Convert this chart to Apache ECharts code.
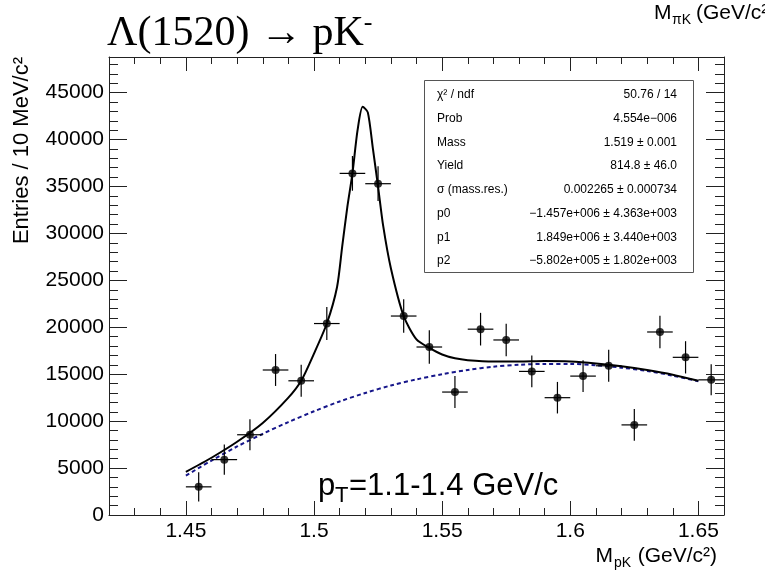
<!DOCTYPE html>
<html>
<head>
<meta charset="utf-8">
<title>Λ(1520) → pK⁻</title>
<script src="https://cdn.jsdelivr.net/npm/echarts@6/dist/echarts.min.js"></script>
<style>
  html, body { margin: 0; padding: 0; background: #fff; }
  #chart { width: 765px; height: 575px; }
</style>
</head>
<body>
<div id="chart"></div>
<script>
// pK invariant-mass spectrum, 10 MeV/c² bins
const binCentres = [1.455, 1.465, 1.475, 1.485, 1.495, 1.505, 1.515, 1.525, 1.535, 1.545,
                    1.555, 1.565, 1.575, 1.585, 1.595, 1.605, 1.615, 1.625, 1.635, 1.645, 1.655];
const entries = [3000, 5900, 8550, 15450, 14300, 20400, 36400, 35300, 21200, 17900,
                 13100, 19800, 18650, 15300, 12500, 14800, 15900, 9600, 19500, 16800, 14400];
const entryErrors = [1550, 1600, 1650, 1700, 1700, 1750, 1850, 1850, 1780, 1780,
                     1700, 1740, 1740, 1700, 1680, 1700, 1700, 1690, 1740, 1720, 1650];
const binHalfWidth = 0.005;

// total fit (signal + pol2 background)
const fitMass = [1.45, 1.46, 1.47, 1.48, 1.49, 1.495, 1.50, 1.505, 1.509, 1.511, 1.513, 1.515,
                 1.517, 1.519, 1.521, 1.523, 1.525, 1.527, 1.53, 1.535, 1.54, 1.545, 1.55,
                 1.555, 1.56, 1.57, 1.58, 1.59, 1.60, 1.61, 1.62, 1.63, 1.64, 1.65];
const fitValues = [4600, 6100, 7800, 9800, 12500, 14300, 17200, 20400, 24300, 28600, 32800, 36400,
                   41000, 43500, 42900, 39000, 35000, 30800, 26300, 21200, 18700, 17800, 17100,
                   16700, 16500, 16350, 16350, 16400, 16350, 16150, 15850, 15450, 14950, 14300];

// pol2 background component
const bkgMass = [1.45, 1.46, 1.47, 1.48, 1.49, 1.50, 1.51, 1.52, 1.53, 1.54, 1.55,
                 1.56, 1.57, 1.58, 1.59, 1.60, 1.61, 1.62, 1.63, 1.64, 1.65];
const bkgValues = [4200, 5800, 7300, 8650, 9900, 11050, 12100, 13000, 13800, 14450, 15000,
                   15450, 15800, 16000, 16100, 16100, 15950, 15700, 15350, 14850, 14250];

// axis ticks
const xMajorTicks = [1.45, 1.5, 1.55, 1.6, 1.65];
const xTickLabels = ['1.45', '1.5', '1.55', '1.6', '1.65'];
const yMajorTicks = [0, 5000, 10000, 15000, 20000, 25000, 30000, 35000, 40000, 45000];
const yTickLabels = ['0', '5000', '10000', '15000', '20000', '25000', '30000', '35000', '40000', '45000'];

// fit statistics panel
const statNames = ['χ² / ndf', 'Prob', 'Mass', 'Yield', 'σ (mass.res.)', 'p0', 'p1', 'p2'];
const statValues = ['50.76 / 14', '4.554e−006', '1.519 ± 0.001', '814.8 ± 46.0',
                    '0.002265 ± 0.000734', '−1.457e+006 ± 4.363e+003',
                    '1.849e+006 ± 3.440e+003', '−5.802e+005 ± 1.802e+003'];

const X_MIN = 1.42, X_MAX = 1.66, Y_MIN = 0, Y_MAX = 48800;

const xMinorTicks = [];
for (let k = 142; k <= 166; k++) if (k % 5 !== 0) xMinorTicks.push(k / 100);
const yMinorTicks = [];
for (let k = 1; k <= 48; k++) if (k % 5 !== 0) yMinorTicks.push(k * 1000);

const FONT = '"Liberation Sans", Arial, Helvetica, sans-serif';
const SERIF = '"Liberation Serif", "Times New Roman", Times, serif';
const INK = '#000';
const FRAME = '#222';

function xAxisDef(position, ticks, len, withLine, withLabels) {
  return {
    type: 'value', position, min: X_MIN, max: X_MAX,
    axisLine: { show: withLine, onZero: false, lineStyle: { color: FRAME, width: 1 } },
    axisTick: { show: true, inside: true, length: len, customValues: ticks,
                lineStyle: { color: FRAME, width: 1 } },
    axisLabel: withLabels ? {
      show: true, customValues: xMajorTicks, margin: 6,
      color: INK, fontFamily: FONT, fontSize: 21,
      formatter: v => xTickLabels[xMajorTicks.findIndex(t => Math.abs(t - v) < 1e-9)] ?? ''
    } : { show: false },
    splitLine: { show: false }
  };
}
function yAxisDef(position, ticks, len, withLine, withLabels) {
  return {
    type: 'value', position, min: Y_MIN, max: Y_MAX,
    axisLine: { show: withLine, onZero: false, lineStyle: { color: FRAME, width: 1 } },
    axisTick: { show: true, inside: true, length: len, customValues: ticks,
                lineStyle: { color: FRAME, width: 1 } },
    axisLabel: withLabels ? {
      show: true, customValues: yMajorTicks, margin: 5,
      color: INK, fontFamily: FONT, fontSize: 21,
      formatter: v => yTickLabels[yMajorTicks.indexOf(v)] ?? ''
    } : { show: false },
    splitLine: { show: false }
  };
}

const STAT_X = 424, STAT_Y = 80, STAT_W = 269, STAT_H = 192;
const statGraphics = [{
  type: 'rect', z: 50,
  shape: { x: STAT_X + 0.5, y: STAT_Y + 0.5, width: STAT_W, height: STAT_H },
  style: { fill: '#fff', stroke: '#555', lineWidth: 1 }
}];
statNames.forEach((name, i) => {
  const y = STAT_Y + 15 + i * 23.7;
  statGraphics.push({
    type: 'text', z: 51, x: STAT_X + 13, y,
    style: { text: name, font: '12px ' + FONT, fill: INK, align: 'left', verticalAlign: 'middle' }
  });
  statGraphics.push({
    type: 'text', z: 51, x: STAT_X + STAT_W - 16, y,
    style: { text: statValues[i], font: '12px ' + FONT, fill: INK, align: 'right', verticalAlign: 'middle' }
  });
});

const option = {
  animation: false,
  backgroundColor: '#fff',
  grid: { left: 109, right: 41, top: 57, bottom: 60, containLabel: false },
  xAxis: [
    xAxisDef('bottom', xMajorTicks, 14, true, true),
    xAxisDef('bottom', xMinorTicks, 7, false, false),
    xAxisDef('top', xMajorTicks, 14, true, false),
    xAxisDef('top', xMinorTicks, 7, false, false)
  ],
  yAxis: [
    yAxisDef('left', yMajorTicks, 18, true, true),
    yAxisDef('left', yMinorTicks, 9, false, false),
    yAxisDef('right', yMajorTicks, 18, true, false),
    yAxisDef('right', yMinorTicks, 9, false, false)
  ],
  series: [
    {
      type: 'line', name: 'background', xAxisIndex: 0, yAxisIndex: 0,
      data: bkgMass.map((m, i) => [m, bkgValues[i]]),
      smooth: 0.3, showSymbol: false, z: 3,
      lineStyle: { color: '#16168a', width: 2, type: [4, 3] }
    },
    {
      type: 'line', name: 'fit', xAxisIndex: 0, yAxisIndex: 0,
      data: fitMass.map((m, i) => [m, fitValues[i]]),
      smooth: 0.25, showSymbol: false, z: 4,
      lineStyle: { color: '#000', width: 2 }
    },
    {
      type: 'custom', name: 'errors', xAxisIndex: 0, yAxisIndex: 0, z: 5,
      data: binCentres.map((m, i) => [m, entries[i], entryErrors[i]]),
      renderItem: (params, api) => {
        const m = api.value(0), v = api.value(1), e = api.value(2);
        const l = api.coord([m - binHalfWidth, v]);
        const r = api.coord([m + binHalfWidth, v]);
        const t = api.coord([m, v + e]);
        const b = api.coord([m, v - e]);
        return {
          type: 'group',
          children: [
            { type: 'line', shape: { x1: l[0], y1: l[1], x2: r[0], y2: r[1] },
              style: { stroke: '#000', lineWidth: 1.2 } },
            { type: 'line', shape: { x1: t[0], y1: t[1], x2: b[0], y2: b[1] },
              style: { stroke: '#000', lineWidth: 1.2 } }
          ]
        };
      }
    },
    {
      type: 'scatter', name: 'data', xAxisIndex: 0, yAxisIndex: 0, z: 6,
      data: binCentres.map((m, i) => [m, entries[i]]),
      symbol: 'circle', symbolSize: 8,
      itemStyle: { color: '#000' }
    }
  ],
  graphic: [
    // decay title
    { type: 'text', x: 107, y: 34,
      style: {
        text: '{m|Λ(1520) → pK}{s|-}',
        fill: INK, align: 'left', verticalAlign: 'middle',
        rich: {
          m: { font: '42px ' + SERIF, lineHeight: 48, fill: INK },
          s: { font: '26px ' + SERIF, lineHeight: 48, verticalAlign: 'top', fill: INK }
        }
      } },
    // axis title left over in the top-right corner
    { type: 'text', x: 654, y: 13,
      style: { text: 'M', font: '21px ' + FONT, fill: INK, align: 'left', verticalAlign: 'middle' } },
    { type: 'text', x: 672, y: 20,
      style: { text: 'πK', font: '14px ' + FONT, fill: INK, align: 'left', verticalAlign: 'middle' } },
    { type: 'text', x: 696, y: 13,
      style: { text: '(GeV/c²)', font: '21px ' + FONT, fill: INK, align: 'left', verticalAlign: 'middle' } },
    // x axis title
    { type: 'text', x: 717, y: 556,
      style: { text: '(GeV/c²)', font: '21px ' + FONT, fill: INK, align: 'right', verticalAlign: 'middle' } },
    { type: 'text', x: 631, y: 563,
      style: { text: 'pK', font: '14px ' + FONT, fill: INK, align: 'right', verticalAlign: 'middle' } },
    { type: 'text', x: 613, y: 556,
      style: { text: 'M', font: '21px ' + FONT, fill: INK, align: 'right', verticalAlign: 'middle' } },
    // y axis title
    { type: 'text', x: 22, y: 57, rotation: Math.PI / 2,
      style: { text: 'Entries / 10 MeV/c²', font: '22px ' + FONT, fill: INK, align: 'right', verticalAlign: 'middle' } },
    // transverse-momentum range
    { type: 'text', x: 318, y: 486,
      style: { text: 'p', font: '31px ' + FONT, fill: INK, align: 'left', verticalAlign: 'middle' } },
    { type: 'text', x: 335, y: 496,
      style: { text: 'T', font: '22px ' + FONT, fill: INK, align: 'left', verticalAlign: 'middle' } },
    { type: 'text', x: 349, y: 486,
      style: { text: '=1.1-1.4 GeV/c', font: '31px ' + FONT, fill: INK, align: 'left', verticalAlign: 'middle' } }
  ].concat(statGraphics)
};

const chart = echarts.init(document.getElementById('chart'), null, { renderer: 'canvas' });
chart.setOption(option);
</script>
</body>
</html>
